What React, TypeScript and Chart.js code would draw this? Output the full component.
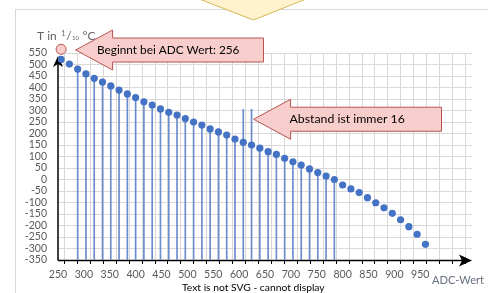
import React, { useEffect, useRef } from 'react';
import { Chart, registerables } from 'chart.js';

Chart.register(...registerables);

// ---- data ----
const adcValues = [256, 272, 288, 304, 320, 336, 352, 368, 384, 400, 416, 432, 448, 464, 480, 496, 512, 528, 544, 560, 576, 592, 608, 624, 640, 656, 672, 688, 704, 720, 736, 752, 768, 784, 800, 816, 832, 848, 864, 880, 896, 912, 928, 944, 960];
const temperatures = [522, 502, 480, 459, 440, 424, 407, 389, 372, 356, 338, 324, 307, 292, 280, 265, 250, 237, 220, 207, 193, 176, 162, 150, 136, 121, 109, 92, 77, 63, 46, 30, 15, 0, -24, -41, -57, -79, -101, -123, -147, -175, -205, -238, -282];
const stemRange = [288, 784];
const pointerAdcs = [608, 624];
const pointerTop = 305;
const startMarker = [256, 566];
const xRange = [250, 1050];
const yRange = [-350, 550];
const xLabelMax = 950;
const xTickStep = 25;
const xLabelStep = 50;
const yTickStep = 50;
const yTitleParts = ['T in ', '1', '/', '10', ' °C'];
const xTitle = 'ADC-Wert';
const footerText = 'Text is not SVG - cannot display';
const startNote = 'Beginnt bei ADC Wert: 256';
const gapNote = 'Abstand ist immer 16';
const startNoteTip = [284, 563];
const gapNoteTip = [628, 262];

const FONT = 'Lato, "Liberation Sans", sans-serif';
const f = (s: number) => `${s}px ${FONT}`;

function fitFont(ctx: CanvasRenderingContext2D, text: string, width: number) {
  ctx.font = f(10);
  const w = ctx.measureText(text).width;
  const size = (10 * width) / w;
  ctx.font = f(Math.round(size * 10) / 10);
}

function leftArrow(ctx: CanvasRenderingContext2D, tx: number, ty: number, headLen: number, headHalf: number, bodyHalf: number, tailX: number) {
  ctx.beginPath();
  ctx.moveTo(tx, ty);
  ctx.lineTo(tx + headLen, ty - headHalf);
  ctx.lineTo(tx + headLen, ty - bodyHalf);
  ctx.lineTo(tailX, ty - bodyHalf);
  ctx.lineTo(tailX, ty + bodyHalf);
  ctx.lineTo(tx + headLen, ty + bodyHalf);
  ctx.lineTo(tx + headLen, ty + headHalf);
  ctx.closePath();
  ctx.fillStyle = '#f8cecc';
  ctx.fill();
  ctx.strokeStyle = '#b85450';
  ctx.lineWidth = 1;
  ctx.stroke();
}

const decor = {
  id: 'decor',
  beforeDraw(chart: any) {
    const ctx = chart.ctx as CanvasRenderingContext2D;
    ctx.save();
    ctx.fillStyle = '#ffffff';
    ctx.fillRect(0, 0, chart.width, chart.height);
    ctx.strokeStyle = '#d9d9d9';
    ctx.lineWidth = 1;
    ctx.strokeRect(15.5, 9.5, 1000, 1000);
    ctx.restore();
  },
  beforeDatasetsDraw(chart: any) {
    const ctx = chart.ctx as CanvasRenderingContext2D;
    const a = chart.chartArea;
    ctx.save();
    ctx.strokeStyle = '#000';
    ctx.fillStyle = '#000';
    ctx.lineWidth = 1.5;
    const y0 = a.bottom + 0.5;
    // y axis
    ctx.beginPath();
    ctx.moveTo(a.left, y0);
    ctx.lineTo(a.left, a.top + 8);
    ctx.stroke();
    ctx.beginPath();
    ctx.moveTo(a.left, a.top + 3);
    ctx.lineTo(a.left - 5, a.top + 14);
    ctx.lineTo(a.left, a.top + 11);
    ctx.lineTo(a.left + 5, a.top + 14);
    ctx.closePath();
    ctx.fill();
    // x axis
    const xe = a.right;
    ctx.beginPath();
    ctx.moveTo(a.left, y0);
    ctx.lineTo(xe - 6, y0);
    ctx.stroke();
    ctx.beginPath();
    ctx.moveTo(xe, y0);
    ctx.lineTo(xe - 13, y0 - 6);
    ctx.lineTo(xe - 10, y0);
    ctx.lineTo(xe - 13, y0 + 6);
    ctx.closePath();
    ctx.fill();
    ctx.restore();
  },
  afterDraw(chart: any) {
    const ctx = chart.ctx as CanvasRenderingContext2D;
    const xs = chart.scales.x;
    const ys = chart.scales.y;
    ctx.save();
    // top yellow callout
    ctx.beginPath();
    ctx.moveTo(196.5, -2);
    ctx.lineTo(253.5, 20);
    ctx.lineTo(308.5, -2);
    ctx.closePath();
    ctx.fillStyle = '#fff2cc';
    ctx.fill();
    ctx.strokeStyle = '#d6b656';
    ctx.lineWidth = 1;
    ctx.stroke();

    // arrows
    const t1x = xs.getPixelForValue(startNoteTip[0]);
    const t1y = ys.getPixelForValue(startNoteTip[1]);
    leftArrow(ctx, t1x, t1y, 37, 20, 12, 263.5);
    const t2x = xs.getPixelForValue(gapNoteTip[0]);
    const t2y = ys.getPixelForValue(gapNoteTip[1]);
    leftArrow(ctx, t2x, t2y, 37, 20, 12, 441.5);

    ctx.fillStyle = '#000';
    ctx.textBaseline = 'middle';
    ctx.textAlign = 'left';
    fitFont(ctx, startNote, 143);
    ctx.fillText(startNote, 97, t1y);
    fitFont(ctx, gapNote, 115);
    ctx.fillText(gapNote, 289.5, t2y);

    // y title
    ctx.textBaseline = 'alphabetic';
    ctx.fillStyle = '#666666';
    let x = 37;
    const sizes = [12, 7.5, 12, 6, 12];
    const bases = [39.5, 35.5, 39.5, 40, 39.5];
    yTitleParts.forEach((p, i) => {
      ctx.font = f(sizes[i]);
      ctx.fillText(p, x, bases[i]);
      x += ctx.measureText(p).width + (i === 0 ? 1.5 : 0.5);
    });

    // x title
    ctx.fillStyle = '#666f80';
    fitFont(ctx, xTitle, 52);
    ctx.textBaseline = 'middle';
    ctx.fillText(xTitle, 432, 280);

    // footer
    ctx.fillStyle = '#000';
    fitFont(ctx, footerText, 143);
    ctx.fillText(footerText, 182, 288);
    ctx.restore();
  },
};

export default function App() {
  const ref = useRef<HTMLCanvasElement | null>(null);
  useEffect(() => {
    if (!ref.current) return;
    const points = adcValues.map((x, i) => ({ x, y: temperatures[i] }));
    const stems = adcValues
      .map((x, i) => ({ x, t: temperatures[i] }))
      .filter((d) => d.x >= stemRange[0] && d.x <= stemRange[1])
      .map((d) => ({ x: d.x, y: [yRange[0], pointerAdcs.includes(d.x) ? pointerTop : d.t] }));
    const chart = new Chart(ref.current, {
      type: 'scatter',
      data: {
        datasets: [
          {
            type: 'scatter',
            data: [{ x: startMarker[0], y: startMarker[1] }],
            pointRadius: 5,
            pointBackgroundColor: '#f8cecc',
            pointBorderColor: '#b85450',
            pointBorderWidth: 1,
            clip: false,
            order: -1,
          } as any,
          {
            type: 'scatter',
            data: points,
            pointRadius: 3.6,
            pointBackgroundColor: '#4472c4',
            pointBorderWidth: 0,
            order: 0,
          } as any,
          {
            type: 'bar',
            data: stems as any,
            backgroundColor: '#6a8bcc',
            borderWidth: 0,
            barThickness: 1,
            order: 1,
          } as any,
        ],
      },
      options: {
        responsive: false,
        maintainAspectRatio: false,
        animation: false,
        events: [],
        layout: { padding: { top: 53, right: 16, left: 0, bottom: 0 } },
        plugins: { legend: { display: false }, tooltip: { enabled: false } },
        scales: {
          x: {
            type: 'linear',
            min: xRange[0],
            max: xRange[1],
            offset: false,
            afterFit: (s: any) => { s.height = 33; },
            border: { display: false },
            grid: { color: '#d9d9d9', lineWidth: 1, drawTicks: true, tickLength: 4, tickColor: '#000', tickWidth: 1 },
            ticks: {
              stepSize: xTickStep,
              autoSkip: false,
              maxRotation: 0,
              padding: 4,
              color: '#595959',
              font: { family: FONT, size: 10.5 },
              callback: (v: any) => (v % xLabelStep === 0 && v <= xLabelMax ? String(v) : ''),
            },
          },
          y: {
            type: 'linear',
            min: yRange[0],
            max: yRange[1],
            afterFit: (s: any) => { s.width = 58; },
            border: { display: false },
            grid: { color: '#d9d9d9', lineWidth: 1, drawTicks: false },
            ticks: {
              stepSize: yTickStep,
              autoSkip: false,
              padding: 11,
              color: '#595959',
              font: { family: FONT, size: 10.5 },
            },
          },
        },
      },
      plugins: [decor],
    } as any);
    return () => chart.destroy();
  }, []);
  return (
    <div style={{ position: 'fixed', left: 0, top: 0, width: 488, height: 293, background: '#fff' }}>
      <canvas ref={ref} width={488} height={293} style={{ display: 'block', width: 488, height: 293 }} />
    </div>
  );
}
